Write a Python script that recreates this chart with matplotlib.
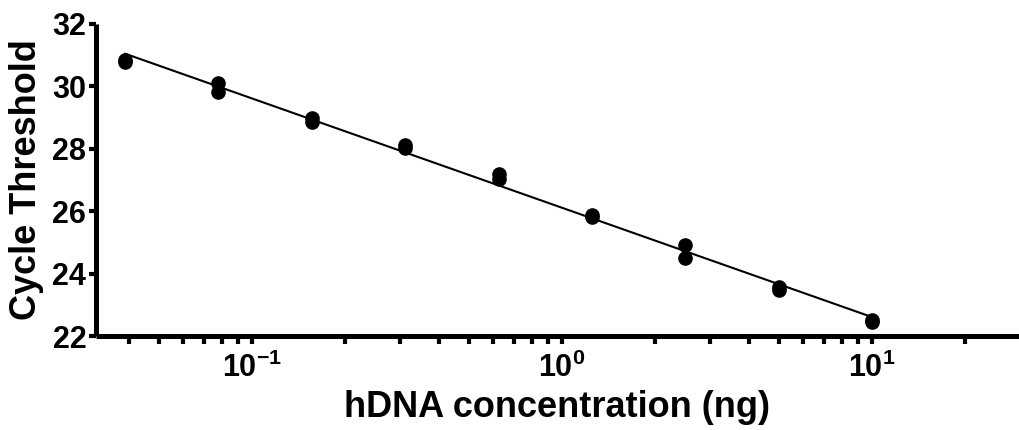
import numpy as np
import matplotlib
matplotlib.use("Agg")
import matplotlib.pyplot as plt
from matplotlib.ticker import LogLocator, FuncFormatter, NullFormatter

# Data (hDNA amount in ng, two replicate Ct values per amount)
conc_ng = [0.039, 0.078, 0.156, 0.3125, 0.625, 1.25, 2.5, 5.0, 10.0]
ct_rep1 = [30.85, 30.12, 28.98, 28.12, 27.18, 25.87, 24.92, 23.56, 22.52]
ct_rep2 = [30.78, 29.82, 28.86, 28.02, 27.04, 25.80, 24.50, 23.48, 22.46]
y_ticks = [22, 24, 26, 28, 30, 32]
x_label = "hDNA concentration (ng)"
y_label = "Cycle Threshold"

plt.rcParams["font.family"] = ["Liberation Sans", "DejaVu Sans"]
plt.rcParams["font.weight"] = "bold"
plt.rcParams["mathtext.fontset"] = "custom"
plt.rcParams["mathtext.rm"] = "Liberation Sans:bold"
plt.rcParams["mathtext.bf"] = "Liberation Sans:bold"
plt.rcParams["mathtext.it"] = "Liberation Sans:bold"

fig = plt.figure(figsize=(10.19, 4.30), dpi=100)
ax = fig.add_axes([0.0942, 0.2186, 0.9058, 0.7256])

x_all = np.array(conc_ng + conc_ng)
y_all = np.array(ct_rep1 + ct_rep2)
ax.plot(conc_ng, ct_rep1, "o", color="black", ms=9.5, zorder=3, clip_on=False)
ax.plot(conc_ng, ct_rep2, "o", color="black", ms=9.5, zorder=3, clip_on=False)

# linear regression in log10(x)
slope, icpt = np.polyfit(np.log10(x_all), y_all, 1)
xf = np.array([min(conc_ng), max(conc_ng)])
ax.plot(xf, slope * np.log10(xf) + icpt, color="black", lw=1.5, zorder=2)

ax.set_xscale("log")
ax.set_xlim(0.0314, 29.8)
ax.set_ylim(22, 32)
ax.set_yticks(y_ticks)
ax.set_yticklabels([str(t) for t in y_ticks], fontsize=22, fontweight="bold")

ax.xaxis.set_major_locator(LogLocator(base=10, numticks=10))
ax.xaxis.set_minor_locator(LogLocator(base=10, subs=np.arange(2, 10), numticks=10))
ax.xaxis.set_major_formatter(FuncFormatter(lambda v, p: r"$\mathbf{10^{%d}}$" % int(round(np.log10(v)))))
ax.xaxis.set_minor_formatter(NullFormatter())
for lab in ax.get_xticklabels():
    lab.set_fontsize(22)

for s in ["top", "right"]:
    ax.spines[s].set_visible(False)
for s in ["left", "bottom"]:
    ax.spines[s].set_linewidth(3.6)
    ax.spines[s].set_capstyle("butt")

ax.tick_params(axis="y", which="major", length=5, width=3, pad=2, labelsize=22)
ax.tick_params(axis="x", which="major", length=6, width=3, pad=6, labelsize=22)
ax.tick_params(axis="x", which="minor", length=6, width=3)

ax.set_xlabel(x_label, fontsize=26, fontweight="bold", labelpad=4)
ax.set_ylabel(y_label, fontsize=26, fontweight="bold", labelpad=6)

fig.savefig("out.png", dpi=100)
